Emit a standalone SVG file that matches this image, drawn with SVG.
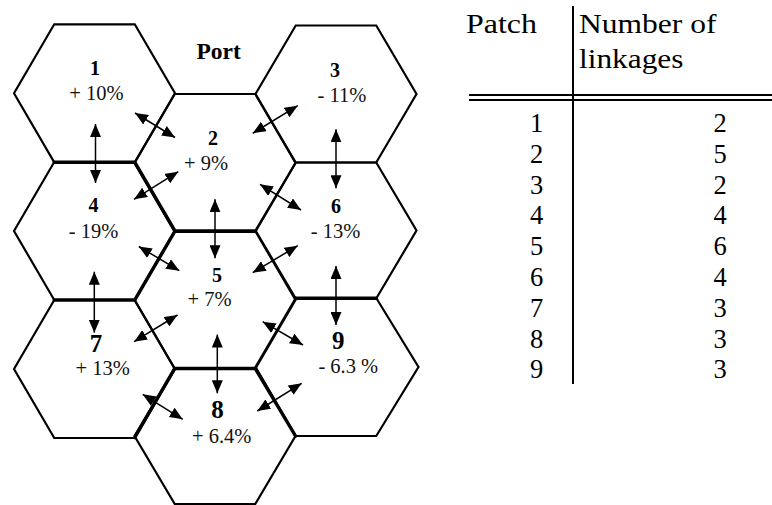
<svg xmlns="http://www.w3.org/2000/svg" width="772" height="505" viewBox="0 0 772 505">
<style>
.hex{fill:none;stroke:#000;stroke-width:2.2;stroke-linejoin:miter}
.thick{fill:none;stroke:#000;stroke-width:3.4;stroke-linecap:round}
.num{font-family:"Liberation Serif","Times New Roman",serif;font-weight:bold;font-size:20px;text-anchor:middle;fill:#000}
.big{font-size:25px}
.pct{font-family:"Liberation Serif","Times New Roman",serif;font-size:20.5px;text-anchor:middle;fill:#111}
.arr{stroke:#000;stroke-width:1.5;fill:none;marker-start:url(#ah);marker-end:url(#ah)}
.tbl{font-family:"Liberation Serif","Times New Roman",serif;font-size:27.5px;fill:#000}
.dig{font-family:"Liberation Serif","Times New Roman",serif;font-size:26.5px;fill:#000;text-anchor:middle}
.tl{stroke:#000;stroke-width:2;fill:none}
</style>
<defs>
<marker id="ah" viewBox="0 0 13 11" refX="13" refY="5.5" markerWidth="13" markerHeight="11" markerUnits="userSpaceOnUse" orient="auto-start-reverse">
<path d="M0,0 L13,5.5 L0,11 z" fill="#000"/>
</marker>
</defs>

<g id="hex1"><path class="hex" d="M14,93.3 L54.25,24.3 L134.75,24.3 L175,93.3 L134.75,162.3 L54.25,162.3 Z"/><text class="num" x="95" y="75">1</text><text class="pct" x="96.5" y="100">+ 10%</text></g>
<g id="hex2"><path class="hex" d="M134.5,163 L174.75,94 L255.25,94 L295.5,163 L255.25,232 L174.75,232 Z"/><text class="num" x="213" y="145">2</text><text class="pct" x="206" y="169.5">+ 9%</text></g>
<g id="hex3"><path class="hex" d="M255.5,94 L295.75,25.5 L376.25,25.5 L416.5,94 L376.25,162.5 L295.75,162.5 Z"/><text class="num" x="335" y="77">3</text><text class="pct" x="342" y="102">- 11%</text></g>
<g id="hex4"><path class="hex" d="M14,231 L54.25,162 L134.75,162 L175,231 L134.75,300 L54.25,300 Z"/><text class="num" x="93.5" y="212">4</text><text class="pct" x="93.5" y="238">- 19%</text></g>
<g id="hex5"><path class="hex" d="M134.5,300 L174.75,231 L255.25,231 L295.5,300 L255.25,369 L174.75,369 Z"/><text class="num" x="217" y="281.7">5</text><text class="pct" x="209.5" y="306">+ 7%</text></g>
<g id="hex6"><path class="hex" d="M255.5,230.5 L295.75,162.5 L376.25,162.5 L416.5,230.5 L376.25,298.5 L295.75,298.5 Z"/><text class="num" x="336" y="213">6</text><text class="pct" x="335.5" y="238">- 13%</text></g>
<g id="hex7"><path class="hex" d="M14,369 L54.25,300 L134.75,300 L175,369 L134.75,438 L54.25,438 Z"/><text class="num big" x="96" y="351.7">7</text><text class="pct" x="102.7" y="375">+ 13%</text></g>
<g id="hex8"><path class="hex" d="M134.5,436 L174.75,368 L255.25,368 L295.5,436 L255.25,504 L174.75,504 Z"/><text class="num big" x="217.5" y="418.3">8</text><text class="pct" x="221.7" y="443.3">+ 6.4%</text></g>
<g id="hex9"><path class="hex" d="M255.5,367 L295.75,298 L376.25,298 L418.5,367 L376.25,436 L295.75,436 Z"/><text class="num big" x="338.3" y="349.3">9</text><text class="pct" x="348.3" y="372.7">- 6.3 %</text></g>

<g id="shared-edges">
<path class="thick" d="M54.25,162.2 L134.75,162.2 L175,231 L134.75,300 L54.25,300"/>
<path class="thick" d="M175,231 L255.25,231"/>
<path class="thick" d="M295.75,298.2 L376.25,298.2"/>
<path class="thick" d="M134.75,437.5 L174.75,368.5 L255.25,368.5 L295.5,436"/>
</g>

<text id="port" x="218.7" y="59" style="font-family:'Liberation Serif','Times New Roman',serif;font-weight:bold;font-size:23.5px;text-anchor:middle">Port</text>

<g id="connectors">
<line class="arr" x1="95.5" y1="124" x2="95.5" y2="183"/>
<line class="arr" x1="135" y1="113" x2="175" y2="137.5"/>
<line class="arr" x1="252.7" y1="133.3" x2="297.7" y2="105.7"/>
<line class="arr" x1="336" y1="129.3" x2="336" y2="188.3"/>
<line class="arr" x1="134" y1="199.3" x2="178.3" y2="171.7"/>
<line class="arr" x1="215" y1="199.3" x2="215" y2="258.3"/>
<line class="arr" x1="260" y1="184.3" x2="301" y2="210"/>
<line class="arr" x1="138.8" y1="246.5" x2="179.3" y2="270.7"/>
<line class="arr" x1="252.7" y1="272.7" x2="297.7" y2="245.7"/>
<line class="arr" x1="336" y1="266" x2="336" y2="325"/>
<line class="arr" x1="94.3" y1="271.7" x2="94.3" y2="332.7"/>
<line class="arr" x1="134" y1="341.7" x2="177.5" y2="315"/>
<line class="arr" x1="262.7" y1="321.7" x2="303" y2="345"/>
<line class="arr" x1="217.3" y1="334.5" x2="217.3" y2="393.3"/>
<line class="arr" x1="142.7" y1="394.3" x2="182.7" y2="419.3"/>
<line class="arr" x1="257.3" y1="411" x2="301.7" y2="383.3"/>
</g>

<g id="table">
<line class="tl" x1="573" y1="6" x2="573" y2="384"/>
<line class="tl" x1="469" y1="95" x2="772" y2="95"/>
<line class="tl" x1="469" y1="100" x2="772" y2="100"/>
<text class="tbl" x="466" y="33.3" textLength="71" lengthAdjust="spacingAndGlyphs">Patch</text>
<text class="tbl" x="579" y="33.3" textLength="137.5" lengthAdjust="spacingAndGlyphs">Number of</text>
<text class="tbl" x="579" y="68.3" textLength="104.5" lengthAdjust="spacingAndGlyphs">linkages</text>
<text class="dig" x="536.5" y="132">1</text><text class="dig" x="720" y="132">2</text>
<text class="dig" x="536.5" y="162.8">2</text><text class="dig" x="720" y="162.8">5</text>
<text class="dig" x="536.5" y="193.6">3</text><text class="dig" x="720" y="193.6">2</text>
<text class="dig" x="536.5" y="224.4">4</text><text class="dig" x="720" y="224.4">4</text>
<text class="dig" x="536.5" y="255.2">5</text><text class="dig" x="720" y="255.2">6</text>
<text class="dig" x="536.5" y="286">6</text><text class="dig" x="720" y="286">4</text>
<text class="dig" x="536.5" y="316.8">7</text><text class="dig" x="720" y="316.8">3</text>
<text class="dig" x="536.5" y="347.6">8</text><text class="dig" x="720" y="347.6">3</text>
<text class="dig" x="536.5" y="378.4">9</text><text class="dig" x="720" y="378.4">3</text>
</g>
</svg>
